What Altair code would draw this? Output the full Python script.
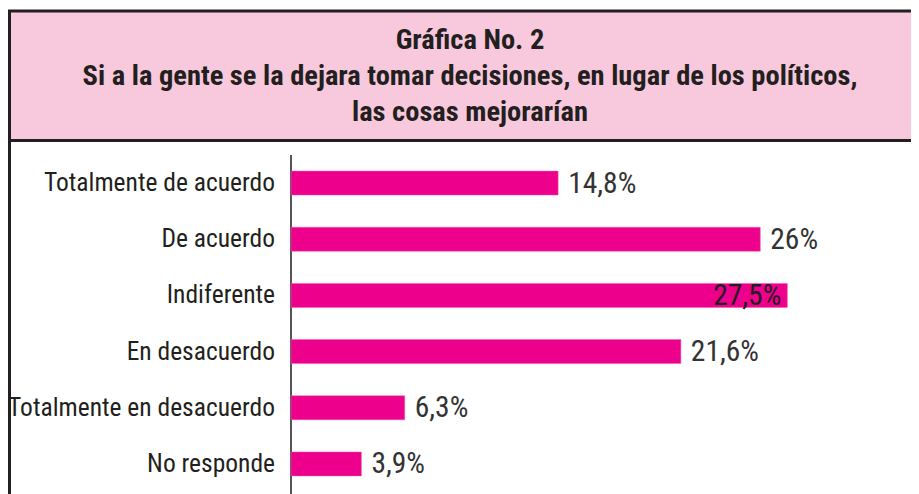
import altair as alt
import pandas as pd

CATEGORIES = ["Totalmente de acuerdo", "De acuerdo", "Indiferente", "En desacuerdo",
              "Totalmente en desacuerdo", "No responde"]
VALUES = [14.8, 26.0, 27.5, 21.6, 6.3, 3.9]
VALUE_LABELS = ["14,8%", "26%", "27,5%", "21,6%", "6,3%", "3,9%"]
TITLE_LINES = ["Gráfica No. 2",
               "Si a la gente se la dejara tomar decisiones, en lugar de los políticos,",
               "las cosas mejorarían"]

df = pd.DataFrame({"cat": CATEGORIES, "val": VALUES, "lab": VALUE_LABELS})

W, H = 903, 486
FONT = "'Roboto Condensed', 'DejaVu Sans Condensed', sans-serif"
DARK = "#231F20"
PINK_BG = "#F8C8DC"
MAGENTA = "#EC008C"

xs = alt.Scale(domain=[0, 34.35], range=[283, 903])
ys = alt.Scale(range=[147, 484], paddingInner=0.573, paddingOuter=0.2865)
X = alt.X("val:Q", scale=xs, axis=None)
Y = alt.Y("cat:N", sort=CATEGORIES, scale=ys, axis=None)

one = alt.Data(values=[{"z": 0}])

header = alt.Chart(one).mark_rect(fill=PINK_BG, stroke=DARK, strokeWidth=3).encode(
    x=alt.value(1.5), x2=alt.value(980), y=alt.value(3), y2=alt.value(132.5)
)
left_border = alt.Chart(one).mark_rule(color=DARK, strokeWidth=3).encode(
    x=alt.value(1.5), y=alt.value(3), y2=alt.value(H)
)
title = alt.Chart(one).mark_text(
    text=TITLE_LINES, font=FONT, fontSize=28.5, fontWeight="bold", color=DARK,
    align="center", baseline="alphabetic", lineHeight=35.8
).encode(x=alt.value(462), y=alt.value(41))

axis_rule = alt.Chart(one).mark_rule(color="#555555", strokeWidth=2).encode(
    x=alt.X("z:Q", scale=xs, axis=None), y=alt.value(147), y2=alt.value(H)
)

bars = alt.Chart(df).mark_bar(color=MAGENTA, stroke="#F25AAE", strokeWidth=0.5).encode(
    x=X, y=Y
)

cat_labels = alt.Chart(df).mark_text(
    font=FONT, fontSize=25.5, color=DARK, align="right", baseline="alphabetic", dy=8
).encode(y=Y, x=alt.value(267), text="cat:N")

val_out = alt.Chart(df).transform_filter("datum.val < 27").mark_text(
    font=FONT, fontSize=29.5, color="#333333", align="left", baseline="alphabetic", dx=10, dy=9.5
).encode(x=X, y=Y, text="lab:N")

val_in = alt.Chart(df).transform_filter("datum.val >= 27").mark_text(
    font=FONT, fontSize=29.5, color="#231F20", align="right", baseline="alphabetic", dx=-6, dy=9.5
).encode(x=X, y=Y, text="lab:N")

chart = alt.layer(header, left_border, title, axis_rule, bars, cat_labels, val_out, val_in).properties(
    width=W, height=H, autosize=alt.AutoSizeParams(type="none"), padding=0, background="white"
).configure_view(stroke=None)

chart.save("out.html", embed_options={"renderer": "svg", "actions": False})
